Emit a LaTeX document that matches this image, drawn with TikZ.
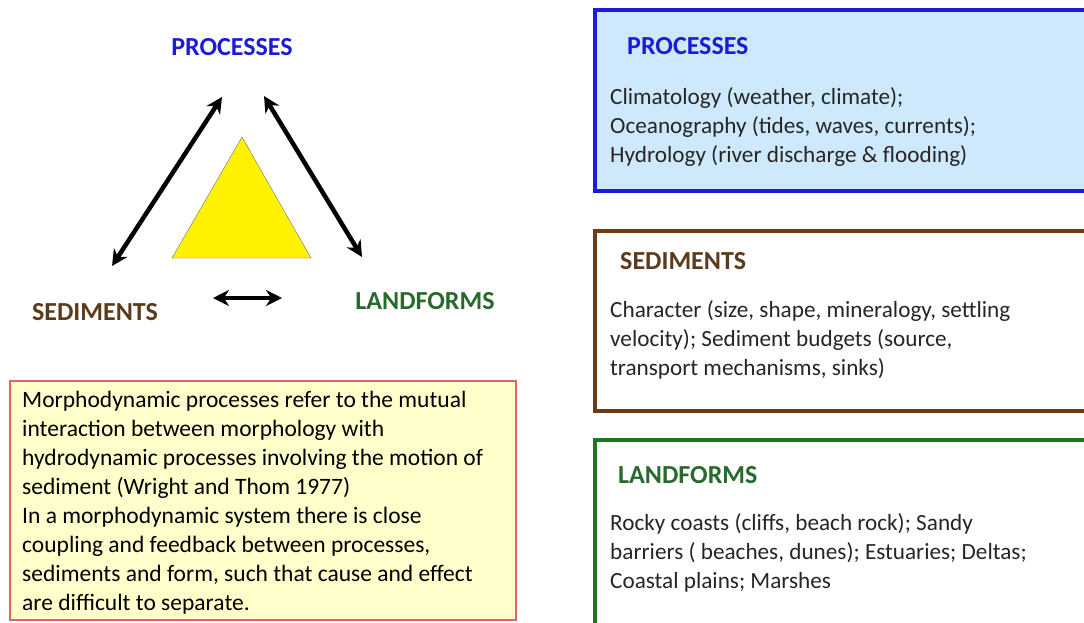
\documentclass[tikz,border=0pt]{standalone}
\usepackage{fontspec}
\setmainfont{Carlito}
\usetikzlibrary{arrows.meta,positioning}

\definecolor{procblue}{RGB}{28,28,215}
\definecolor{procfill}{RGB}{205,233,251}
\definecolor{sedbrown}{RGB}{92,58,28}
\definecolor{sedframe}{RGB}{110,60,20}
\definecolor{landgreen}{RGB}{40,105,45}
\definecolor{landframe}{RGB}{30,120,30}
\definecolor{notefill}{RGB}{255,255,204}
\definecolor{noteframe}{RGB}{225,100,100}

\tikzset{
    titlenode/.style={
        font=\fontsize{26}{30}\selectfont\bfseries, % titel in fett
        inner sep=0
    },
    bodytext/.style={
        anchor=base west, % basis = letzte zeile
        align=left,
        inner sep=0,
        font=\fontsize{23.2}{29}\selectfont,
        text=black!85
    },
    infobox/.style={
        line width=4pt
    },
    linkarrow/.style={
        line width=4.5pt,
        {Stealth[length=16pt,width=16pt]}-{Stealth[length=16pt,width=16pt]}
    }
}

\begin{document}
\begin{tikzpicture}[x=1pt,y=-1pt]
    \useasboundingbox (0,0) rectangle (1084,622);
    \clip (0,0) rectangle (1084,622);

    % Dreieck der Wechselwirkungen
    \node[titlenode, text=procblue] (proc) at (232,47) {PROCESSES};
    \node[titlenode, text=sedbrown] (sed) at (95,312) {SEDIMENTS};
    \node[titlenode, text=landgreen] (land) at (425,301) {LANDFORMS};

    \draw[draw=black!55, fill=yellow] (242,137) -- (172,258) -- (311,258) -- cycle;

    \coordinate (procL) at (222,97);
    \coordinate (procR) at (264,96);
    \coordinate (sedT) at (112,266);
    \coordinate (landT) at (362,257);
    \coordinate (sedR) at (213,298);
    \coordinate (landL) at (282,298);

    \draw[linkarrow] (sedT) -- (procL);
    \draw[linkarrow] (procR) -- (landT);
    \draw[linkarrow] (sedR) -- (landL);

    % Erklaerung
    \draw[line width=1.5pt, draw=noteframe, fill=notefill] (10,381) rectangle (516,620);
    \node[bodytext, text=black, font=\fontsize{23.5}{28.9}\selectfont] (note) at (22,610) {Morphodynamic processes refer to the mutual\\
        interaction between morphology with\\
        hydrodynamic processes involving the motion of\\
        sediment (Wright and Thom 1977)\\
        In a morphodynamic system there is close\\
        coupling and feedback between processes,\\
        sediments and form, such that cause and effect\\
        are difficult to separate.};

    % Kasten: Prozesse
    \draw[infobox, draw=procblue, fill=procfill] (595,10) rectangle (1100,191);
    \node[titlenode, text=procblue, anchor=base west] (proctitle) at (627,54) {PROCESSES};
    \node[bodytext] (proctext) at (610,162) {Climatology (weather, climate);\\
        Oceanography (tides, waves, currents);\\
        Hydrology (river discharge \& flooding)};

    % Kasten: Sedimente
    \draw[infobox, draw=sedframe, fill=white] (595,231) rectangle (1100,411);
    \node[titlenode, text=sedbrown, anchor=base west] (sedtitle) at (620,269) {SEDIMENTS};
    \node[bodytext] (sedtext) at (610,375) {Character (size, shape, mineralogy, settling\\
        velocity); Sediment budgets (source,\\
        transport mechanisms, sinks)};

    % Kasten: Landformen
    \draw[infobox, draw=landframe, fill=white] (595,440) rectangle (1100,640);
    \node[titlenode, text=landgreen, anchor=base west] (landtitle) at (618,483) {LANDFORMS};
    \node[bodytext] (landtext) at (610,588) {Rocky coasts (cliffs, beach rock); Sandy\\
        barriers ( beaches, dunes); Estuaries; Deltas;\\
        Coastal plains; Marshes};
\end{tikzpicture}
\end{document}
